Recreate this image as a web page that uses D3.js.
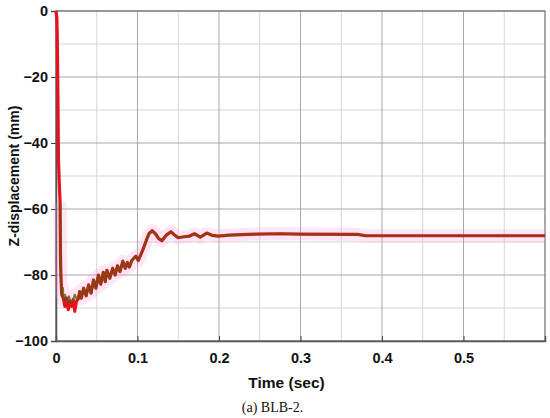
<!DOCTYPE html>
<html>
<head>
<meta charset="utf-8">
<script src="https://cdn.jsdelivr.net/npm/d3@7"></script>
<style>
  body { margin: 0; background: #fff; }
  svg text { font-family: Arial, "Liberation Sans", sans-serif; }
</style>
</head>
<body>
<div id="chart"></div>
<script>
// early drop and lower dips (red trace only)
const redTime = [0, 0.001, 0.0015, 0.002, 0.0025, 0.003, 0.004, 0.005, 0.0055, 0.006, 0.007,
  0.009, 0.011, 0.013, 0.015, 0.017, 0.019, 0.021, 0.023, 0.025, 0.028];
const redZ = [0, -2, -7, -18, -30, -45, -52, -58, -75, -80, -86,
  -87, -89.5, -87, -90.5, -88, -89.5, -87.5, -91, -88, -87];

// main trace (olive), starting once the probe settles
const time = [0.005, 0.0055, 0.006, 0.007, 0.0085, 0.009, 0.011, 0.013, 0.016, 0.018, 0.021, 0.023,
  0.026, 0.029, 0.031, 0.034, 0.037, 0.04, 0.043, 0.046, 0.049, 0.052, 0.055, 0.058, 0.0605, 0.0625,
  0.066, 0.0695, 0.0725, 0.0755, 0.0785, 0.082, 0.085, 0.0875, 0.09, 0.093, 0.098, 0.101, 0.1065, 0.111, 0.114,
  0.118, 0.122, 0.126, 0.130, 0.135, 0.141, 0.146, 0.150, 0.157, 0.164, 0.17, 0.177, 0.185, 0.192,
  0.199, 0.213, 0.244, 0.275, 0.3, 0.37, 0.38, 0.6];
const zDisp = [-58, -75, -80, -86, -84, -87.5, -86, -88, -86.5, -88.5, -87.5, -86,
  -87.5, -85, -87, -84, -86.3, -83, -85.5, -81.5, -84, -80, -82.8, -79.2, -82, -78.6,
  -81, -78, -80, -77.2, -79, -75.8, -78, -76.2, -77.6, -75.6, -74.3, -75.6, -72.4, -69.4, -67.5,
  -66.6, -67.5, -69, -69.6, -68, -66.9, -68, -68.7, -68.4, -68.2, -67.5, -68.5, -67.3, -68,
  -68.2, -67.9, -67.6, -67.5, -67.6, -67.7, -68.1, -68.1];

const xTicks = [0, 0.1, 0.2, 0.3, 0.4, 0.5];
const xMinor = [0.05, 0.15, 0.25, 0.35, 0.45, 0.55];
const yTicks = [0, -20, -40, -60, -80, -100];
const yMinor = [-10, -30, -50, -70, -90];

const margin = {top: 11, right: 5, bottom: 77, left: 56};
const width = 550 - margin.left - margin.right;
const height = 418 - margin.top - margin.bottom;

const svg = d3.select("#chart")
    .append("svg")
    .attr("width", 550)
    .attr("height", 418)
    .append("g")
    .attr("transform", "translate(" + margin.left + "," + margin.top + ")");

const x = d3.scaleLinear().domain([0, 0.6]).range([0, width]);
const y = d3.scaleLinear().domain([-100, 0]).range([height, 0]);

//grid lines, minor first then major
svg.selectAll(".vminor").data(xMinor).enter().append("line")
    .attr("x1", d => x(d)).attr("x2", d => x(d))
    .attr("y1", 0).attr("y2", height)
    .attr("stroke", "#d6d6d6").attr("stroke-width", 1);
svg.selectAll(".hminor").data(yMinor).enter().append("line")
    .attr("x1", 0).attr("x2", width)
    .attr("y1", d => y(d)).attr("y2", d => y(d))
    .attr("stroke", "#d6d6d6").attr("stroke-width", 1);
svg.selectAll(".vmajor").data(xTicks).enter().append("line")
    .attr("x1", d => x(d)).attr("x2", d => x(d))
    .attr("y1", 0).attr("y2", height)
    .attr("stroke", "#a8a8a8").attr("stroke-width", 1);
svg.selectAll(".hmajor").data(yTicks).enter().append("line")
    .attr("x1", 0).attr("x2", width)
    .attr("y1", d => y(d)).attr("y2", d => y(d))
    .attr("stroke", "#a8a8a8").attr("stroke-width", 1);

//frame
svg.append("rect")
    .attr("width", width).attr("height", height)
    .attr("fill", "none").attr("stroke", "#707070").attr("stroke-width", 1.2);

//axes
const xAxis = svg.append("g")
    .attr("transform", "translate(0," + height + ")")
    .call(d3.axisBottom(x).tickValues(xTicks).tickSize(-5).tickPadding(10).tickFormat(d3.format("~g")));
const yAxis = svg.append("g")
    .call(d3.axisLeft(y).tickValues(yTicks).tickSize(5).tickPadding(3).tickFormat(d => d < 0 ? "\u2212" + (-d) : d));
[xAxis, yAxis].forEach(function(a) {
  a.select(".domain").attr("stroke", "#555").attr("stroke-width", 1.5);
  a.selectAll(".tick line").attr("stroke", "#444");
  a.selectAll(".tick text").attr("fill", "#111").style("font-size", "14.5px").style("font-weight", "bold");
});
xAxis.selectAll(".tick text").attr("dy", "0.85em");

//axis titles
svg.append("text")
    .attr("x", width / 2 - 14).attr("y", height + 47)
    .attr("text-anchor", "middle").attr("fill", "#111")
    .style("font-size", "15.5px").style("font-weight", "bold")
    .text("Time (sec)");
svg.append("text")
    .attr("transform", "rotate(-90)")
    .attr("x", -height / 2).attr("y", -37)
    .attr("text-anchor", "middle").attr("fill", "#111")
    .style("font-size", "14px").style("font-weight", "bold")
    .text("Z-displacement (mm)");
svg.append("text")
    .attr("x", width / 2 - 28).attr("y", height + 71)
    .attr("text-anchor", "middle").attr("fill", "#111")
    .style("font-size", "14px")
    .style("font-family", "'Liberation Serif', 'DejaVu Serif', serif")
    .text("(a) BLB-2.");

//lines
const line = d3.line()
    .x(d => x(d[0]))
    .y(d => y(d[1]));
const mainPts = time.map((t, i) => [t, zDisp[i]]);
const redPts = redTime.map((t, i) => [t, redZ[i]])
    .concat(mainPts.filter(d => d[0] > 0.028));

//pink halo
svg.append("path")
    .attr("d", line(mainPts))
    .attr("fill", "none")
    .attr("stroke", "#ff8ad8")
    .attr("stroke-opacity", 0.22)
    .attr("stroke-width", 13)
    .attr("stroke-linejoin", "round");

svg.append("path")
    .attr("d", line(redPts))
    .attr("fill", "none")
    .attr("stroke", "#e8121a")
    .attr("stroke-width", 3.2)
    .attr("stroke-linejoin", "round");

svg.append("path")
    .attr("d", line(mainPts))
    .attr("fill", "none")
    .attr("stroke", "#6b4f12")
    .attr("stroke-opacity", 0.8)
    .attr("stroke-width", 2.2)
    .attr("stroke-linejoin", "round");
</script>
</body>
</html>
